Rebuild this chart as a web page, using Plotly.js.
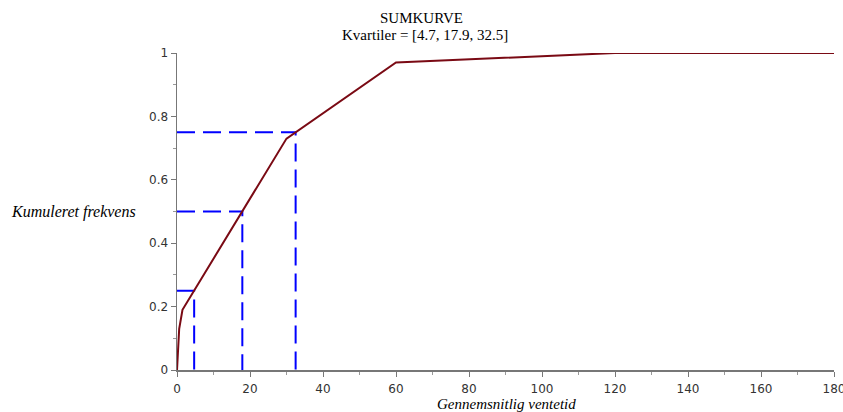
<!DOCTYPE html>
<html>
<head>
<meta charset="utf-8">
<script src="https://cdn.plot.ly/plotly-3.0.1.min.js"></script>
<style>html,body{margin:0;padding:0;background:#fff;}#chart{width:843px;height:412px;}</style>
</head>
<body>
<div id="chart"></div>
<script>
// Sum curve (cumulative frequency)
const ventetid = [0, 0.6, 1.5, 30, 60, 120, 180];
const kumFrekvens = [0, 0.13, 0.19, 0.73, 0.97, 1.0, 1.0];
// Quartiles
const kvartiler = [4.7, 17.9, 32.5];
const niveauer = [0.25, 0.5, 0.75];
const xTicks = [0, 20, 40, 60, 80, 100, 120, 140, 160, 180];
const yTicks = [0, 0.2, 0.4, 0.6, 0.8, 1];

const traces = [];
kvartiler.forEach((q, i) => {
  traces.push({
    x: [0, q, q], y: [niveauer[i], niveauer[i], 0],
    mode: 'lines', type: 'scatter', hoverinfo: 'skip',
    line: {color: '#0000ff', width: 2, dash: '18px,8px'}
  });
});
traces.push({
  x: ventetid, y: kumFrekvens, mode: 'lines', type: 'scatter',
  line: {color: '#7a0a14', width: 2}
});

const axisFont = {family: 'DejaVu Sans', size: 12, color: '#333'};
const layout = {
  width: 843, height: 412,
  margin: {l: 177, r: 9, t: 53, b: 42},
  paper_bgcolor: '#fff', plot_bgcolor: '#fff',
  showlegend: false,
  xaxis: {
    range: [0, 180], tickvals: xTicks, ticktext: xTicks.map(String),
    showgrid: false, zeroline: false, showline: true, linecolor: '#777', linewidth: 1.5,
    ticks: 'outside', ticklen: 5, tickcolor: '#777', tickfont: axisFont,
    ticklabeloverflow: 'allow', ticklabelstandoff: 2,
    minor: {dtick: 10, ticks: 'outside', ticklen: 3, tickcolor: '#999'}
  },
  yaxis: {
    range: [0, 1], tickvals: yTicks, ticktext: yTicks.map(String),
    showgrid: false, zeroline: false, showline: true, linecolor: '#777', linewidth: 1.5,
    ticks: 'outside', ticklen: 5, tickcolor: '#777', tickfont: axisFont,
    minor: {dtick: 0.1, ticks: 'outside', ticklen: 3, tickcolor: '#999'}
  },
  annotations: [
    {text: 'SUMKURVE', xref: 'paper', yref: 'paper', x: (421 - 177) / 657, y: 1 + (53 - 18) / 317,
     showarrow: false, xanchor: 'center', yanchor: 'middle',
     font: {family: 'Liberation Serif', size: 15, color: '#000'}},
    {text: 'Kvartiler = [' + kvartiler.join(', ') + ']', xref: 'paper', yref: 'paper', x: (425 - 177) / 657, y: 1 + (53 - 35) / 317,
     showarrow: false, xanchor: 'center', yanchor: 'middle',
     font: {family: 'Liberation Serif', size: 15, color: '#000'}},
    {text: '<i>Kumuleret frekvens</i>', xref: 'paper', yref: 'paper', x: -(177 - 9) / 657, y: (370 - 212) / 317,
     showarrow: false, xanchor: 'left', yanchor: 'middle',
     font: {family: 'Liberation Serif', size: 16, color: '#000'}},
    {text: '<i>Gennemsnitlig ventetid</i>', xref: 'paper', yref: 'paper', x: (506 - 177) / 657, y: -(404 - 370) / 317,
     showarrow: false, xanchor: 'center', yanchor: 'middle',
     font: {family: 'Liberation Serif', size: 15, color: '#000'}}
  ]
};
Plotly.newPlot('chart', traces, layout, {displayModeBar: false, staticPlot: true});
</script>
</body>
</html>
